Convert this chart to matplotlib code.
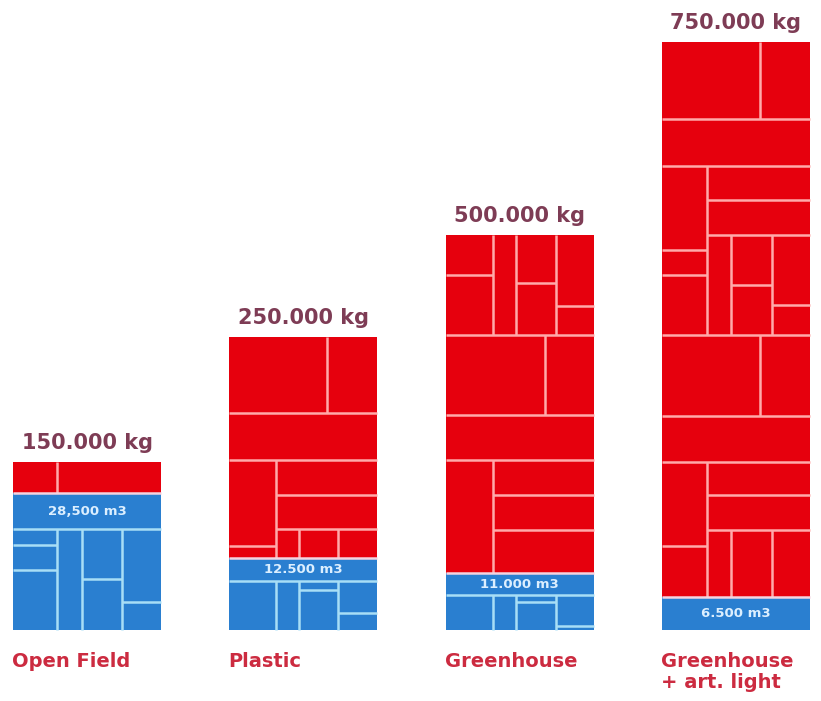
import matplotlib
matplotlib.use("Agg")
import matplotlib.pyplot as plt
from matplotlib.patches import Rectangle

# ---------------- data ----------------
categories = ["Open Field", "Plastic", "Greenhouse", "Greenhouse\n+ art. light"]
yield_labels = ["150.000 kg", "250.000 kg", "500.000 kg", "750.000 kg"]
water_labels = ["28,500 m3", "12.500 m3", "11.000 m3", "6.500 m3"]
# block heights as drawn in the picture (chart units)
red_height = [31, 221, 338, 555]
blue_height = [137, 72, 57, 33]

# ---------------- tile layouts (fractions of each block) ----------------
# horizontal dividers: (fy_from_top, fx0, fx1); vertical dividers: (fx, fy0, fy1)
red_h_lines = [
    [],
    [(0.344, 0, 1), (0.557, 0, 1), (0.946, 0, 0.318), (0.715, 0.318, 1), (0.869, 0.318, 1)],
    [(0.296, 0, 1), (0.533, 0, 1), (0.666, 0, 1), (0.118, 0, 0.318), (0.142, 0.473, 0.743),
     (0.21, 0.743, 1), (0.769, 0.318, 1), (0.873, 0.318, 1)],
    [(0.139, 0, 1), (0.223, 0, 1), (0.528, 0, 1), (0.674, 0, 1), (0.757, 0, 1),
     (0.375, 0, 0.306), (0.42, 0, 0.306), (0.285, 0.306, 1), (0.348, 0.306, 1),
     (0.438, 0.469, 0.741), (0.474, 0.741, 1),
     (0.908, 0, 0.306), (0.816, 0.306, 1), (0.879, 0.306, 1)],
]
red_v_lines = [
    [(0.30, 0, 1)],
    [(0.662, 0, 0.344), (0.318, 0.557, 1), (0.473, 0.869, 1), (0.736, 0.869, 1)],
    [(0.318, 0, 0.296), (0.473, 0, 0.296), (0.743, 0, 0.296), (0.669, 0.296, 0.533),
     (0.318, 0.666, 1)],
    [(0.66, 0, 0.139), (0.306, 0.223, 0.528), (0.469, 0.348, 0.528), (0.741, 0.348, 0.528),
     (0.66, 0.528, 0.674), (0.306, 0.757, 1), (0.469, 0.879, 1), (0.741, 0.879, 1)],
]
blue_header = [0.263, 0.32, 0.386, 1.0]
blue_h_lines = [
    [(0.263, 0, 1), (0.38, 0, 0.297), (0.562, 0, 0.297), (0.628, 0.466, 0.736), (0.796, 0.736, 1)],
    [(0.32, 0, 1), (0.444, 0.473, 0.736), (0.764, 0.736, 1)],
    [(0.386, 0, 1), (0.51, 0.473, 0.743), (0.93, 0.743, 1)],
    [],
]
blue_v_lines = [
    [(0.297, 0.263, 1), (0.466, 0.263, 1), (0.736, 0.263, 1)],
    [(0.318, 0.32, 1), (0.473, 0.32, 1), (0.736, 0.32, 1)],
    [(0.318, 0.386, 1), (0.473, 0.386, 1), (0.743, 0.386, 1)],
    [],
]

RED = "#e6000d"
BLUE = "#2a7fd0"
RED_LINE = "#ffaaaa"
BLUE_LINE = "#a8def6"
TOP_TXT = "#7e3c55"
BOT_TXT = "#cc2b40"

fig = plt.figure(figsize=(8.21, 7.01), dpi=100)
ax = fig.add_axes([0, 0, 1, 1])
spacing = 216.3
ax.set_xlim(-87 / spacing, (821 - 87) / spacing)
ax.set_ylim(-71, 630)
ax.axis("off")

width = 148 / spacing
xs = list(range(len(categories)))
ax.bar(xs, blue_height, width=width, color=BLUE, linewidth=0)
ax.bar(xs, red_height, width=width, bottom=blue_height, color=RED, linewidth=0)

lw = 1.8


def draw_dividers(left, top, w, h, hl, vl, color):
    for fy, fx0, fx1 in hl:
        y = top - fy * h
        ax.plot([left + fx0 * w, left + fx1 * w], [y, y], color=color, lw=lw,
                solid_capstyle="butt")
    for fx, fy0, fy1 in vl:
        x = left + fx * w
        ax.plot([x, x], [top - fy0 * h, top - fy1 * h], color=color, lw=lw,
                solid_capstyle="butt")


for i in xs:
    left = i - width / 2
    bh = blue_height[i]
    rh = red_height[i]
    top = bh + rh
    draw_dividers(left, top, width, rh, red_h_lines[i], red_v_lines[i], RED_LINE)
    draw_dividers(left, bh, width, bh, blue_h_lines[i], blue_v_lines[i], BLUE_LINE)
    # boundary between red and blue
    ax.plot([left, left + width], [bh, bh], color="#f4d4e0", lw=lw, solid_capstyle="butt")
    # labels
    ax.text(i, top + 19, yield_labels[i], ha="center", va="center",
            fontsize=15, fontweight="bold", color=TOP_TXT, family="DejaVu Sans")
    hy = bh - blue_header[i] * bh / 2
    ax.text(i, hy, water_labels[i], ha="center", va="center",
            fontsize=9.5, fontweight="bold", color="#dcefff", family="DejaVu Sans")
    ax.text(left - 1 / spacing, -22, categories[i], ha="left", va="top",
            fontsize=14, fontweight="bold", color=BOT_TXT, family="DejaVu Sans",
            linespacing=1.1)

fig.savefig("out.png", dpi=100, facecolor="white")
